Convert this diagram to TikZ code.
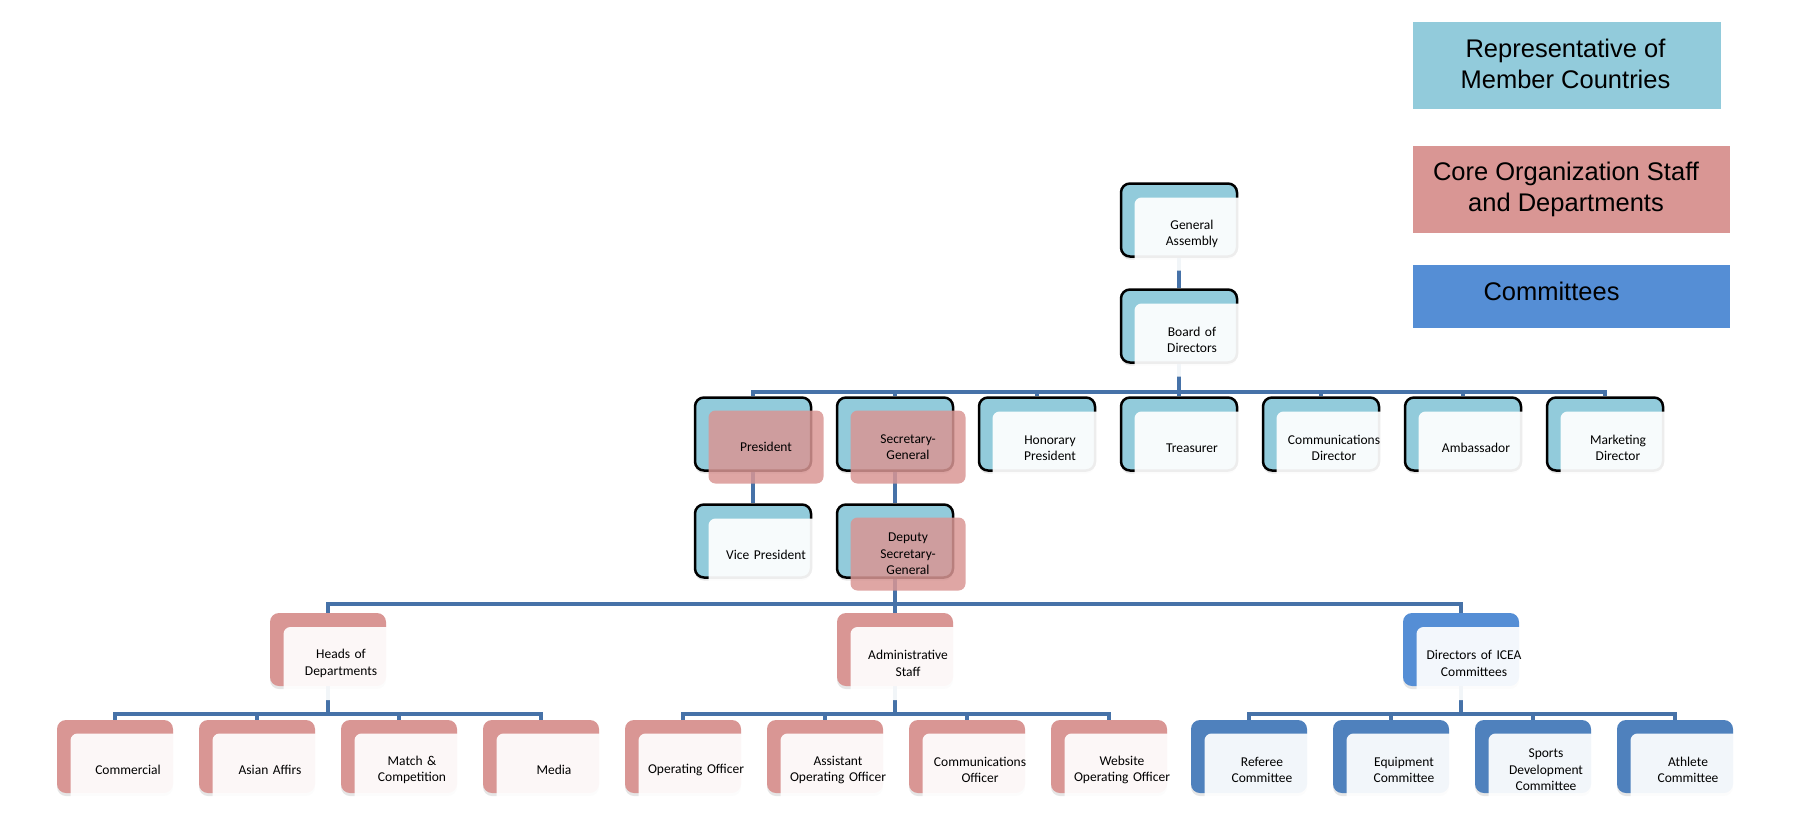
\documentclass[tikz,border=0pt]{standalone}
\usepackage{fontspec}
\newfontfamily\boxfont{Carlito}
\newfontfamily\legfont{Liberation Sans}
\usetikzlibrary{shadows,backgrounds}

\definecolor{tierblue}{RGB}{146,203,219}
\definecolor{tierred}{RGB}{217,150,148}
\definecolor{tiercom}{RGB}{85,142,213}
\definecolor{tiercomdark}{RGB}{79,129,189}
\definecolor{linkblue}{RGB}{70,114,168}

\tikzset{
back/.style={rectangle, rounded corners=9pt, minimum width=116pt,
minimum height=73pt, inner sep=0pt,
drop shadow={opacity=0.2, shadow xshift=0pt, shadow yshift=-3pt}},
topback/.style={back, draw=black, line width=2.5pt, fill=tierblue},
redback/.style={back, fill=tierred},
comback/.style={back, fill=tiercomdark},
dirback/.style={back, fill=tiercom},
front/.style={rectangle, rounded corners=7pt, minimum width=115pt,
minimum height=73pt, inner sep=2pt, text width=111pt, align=center,
font=\boxfont\fontsize{13.5}{16.5}\selectfont},
lightfront/.style={front, fill=white, fill opacity=0.93, text opacity=1},
redfront/.style={front, fill=tierred, fill opacity=0.85, text opacity=1},
legbox/.style={rectangle, inner sep=0pt},
legtext/.style={inner sep=0pt, align=center,
font=\legfont\fontsize{25.5}{31}\selectfont},
conn/.style={draw=linkblue, line width=4.5pt}
}

\begin{document}
\begin{tikzpicture}[x=1pt, y=-1pt]
% 1pt = 1px of the layout, y runs downwards
\useasboundingbox (0, 0) rectangle (1793, 825);
\draw (1567, 65.5) node[legbox, fill=tierblue, minimum width=308pt, minimum height=87pt] (legrep) {};
	\draw (1565.5, 63.5) node[legtext] (legrep-t) {Representative of\\Member Countries};
\draw (1571.5, 189.5) node[legbox, fill=tierred, minimum width=317pt, minimum height=87pt] (legcore) {};
	\draw (1566, 189) node[legtext] (legcore-t) {Core Organization Staff\\and Departments};
\draw (1571.5, 296.5) node[legbox, fill=tiercom, minimum width=317pt, minimum height=63pt] (legcom) {};
	\draw (1551.5, 291.5) node[legtext] (legcom-t) {Committees};
% board level
\draw (1179, 220) node[topback] (ga) {};
	\draw (1192, 234) node[lightfront] (ga-t) {General\\Assembly};
\draw (1179, 326) node[topback] (board) {};
	\draw (1192, 340) node[lightfront] (board-t) {Board of\\Directors};
% officers
\draw (753, 434) node[topback] (pres) {};
	\draw (766, 447) node[redfront] (pres-t) {President};
\draw (895, 434) node[topback] (sg) {};
	\draw (908, 447) node[redfront] (sg-t) {Secretary-\\General};
\draw (1037, 434) node[topback] (hp) {};
	\draw (1050, 448) node[lightfront] (hp-t) {Honorary\\President};
\draw (1179, 434) node[topback] (tr) {};
	\draw (1192, 448) node[lightfront] (tr-t) {Treasurer};
\draw (1321, 434) node[topback] (cd) {};
	\draw (1334, 448) node[lightfront] (cd-t) {Communications\\Director};
\draw (1463, 434) node[topback] (amb) {};
	\draw (1476, 448) node[lightfront] (amb-t) {Ambassador};
\draw (1605, 434) node[topback] (md) {};
	\draw (1618, 448) node[lightfront] (md-t) {Marketing\\Director};
\draw (753, 541) node[topback] (vp) {};
	\draw (766, 555) node[lightfront] (vp-t) {Vice President};
\draw (895, 541) node[topback] (dsg) {};
	\draw (908, 554) node[redfront] (dsg-t) {Deputy\\Secretary-\\General};
% staff and committees
\draw (328, 649.5) node[redback] (hod) {};
	\draw (341, 663.5) node[lightfront] (hod-t) {Heads of\\Departments};
\draw (895, 649.5) node[redback] (adm) {};
	\draw (908, 663.5) node[lightfront] (adm-t) {Administrative\\Staff};
\draw (1461, 649.5) node[dirback] (dir) {};
	\draw (1474, 663.5) node[lightfront] (dir-t) {Directors of ICEA\\Committees};
\draw (115, 756.5) node[redback] (com) {};
	\draw (128, 770) node[lightfront] (com-t) {Commercial};
\draw (257, 756.5) node[redback] (asia) {};
	\draw (270, 770) node[lightfront] (asia-t) {Asian Affirs};
\draw (399, 756.5) node[redback] (match) {};
	\draw (412, 770) node[lightfront] (match-t) {Match \&\\Competition};
\draw (541, 756.5) node[redback] (media) {};
	\draw (554, 770) node[lightfront] (media-t) {Media};
\draw (683, 756.5) node[redback] (opo) {};
	\draw (696, 770) node[lightfront] (opo-t) {Operating Officer};
\draw (825, 756.5) node[redback] (aopo) {};
	\draw (838, 770) node[lightfront] (aopo-t) {Assistant\\Operating Officer};
\draw (967, 756.5) node[redback] (cmo) {};
	\draw (980, 770) node[lightfront] (cmo-t) {Communications\\Officer};
\draw (1109, 756.5) node[redback] (web) {};
	\draw (1122, 770) node[lightfront] (web-t) {Website\\Operating Officer};
\draw (1249, 756.5) node[comback] (ref) {};
	\draw (1262, 770) node[lightfront] (ref-t) {Referee\\Committee};
\draw (1391, 756.5) node[comback] (equ) {};
	\draw (1404, 770) node[lightfront] (equ-t) {Equipment\\Committee};
\draw (1533, 756.5) node[comback] (spd) {};
	\draw (1546, 770) node[lightfront] (spd-t) {Sports\\Development\\Committee};
\draw (1675, 756.5) node[comback] (ath) {};
	\draw (1688, 770) node[lightfront] (ath-t) {Athlete\\Committee};
% links
\begin{scope}[on background layer]
\draw[conn] (ga.south) -- (board.north);
\foreach \c in {pres,sg,hp,tr,cd,amb,md}
	\draw[conn] (board.south) -- ++(0, 28) -| (\c.north);
\draw[conn] (pres.south) -- (vp.north);
\draw[conn] (sg.south) -- (dsg.north);
\foreach \c in {hod,adm,dir}
	\draw[conn] (dsg.south) -- ++(0, 25) -| (\c.north);
\foreach \c in {com,asia,match,media}
	\draw[conn] (hod.south) -- ++(0, 28) -| (\c.north);
\foreach \c in {opo,aopo,cmo,web}
	\draw[conn] (adm.south) -- ++(0, 28) -| (\c.north);
\foreach \c in {ref,equ,spd,ath}
	\draw[conn] (dir.south) -- ++(0, 28) -| (\c.north);
\end{scope}
\end{tikzpicture}
\end{document}
